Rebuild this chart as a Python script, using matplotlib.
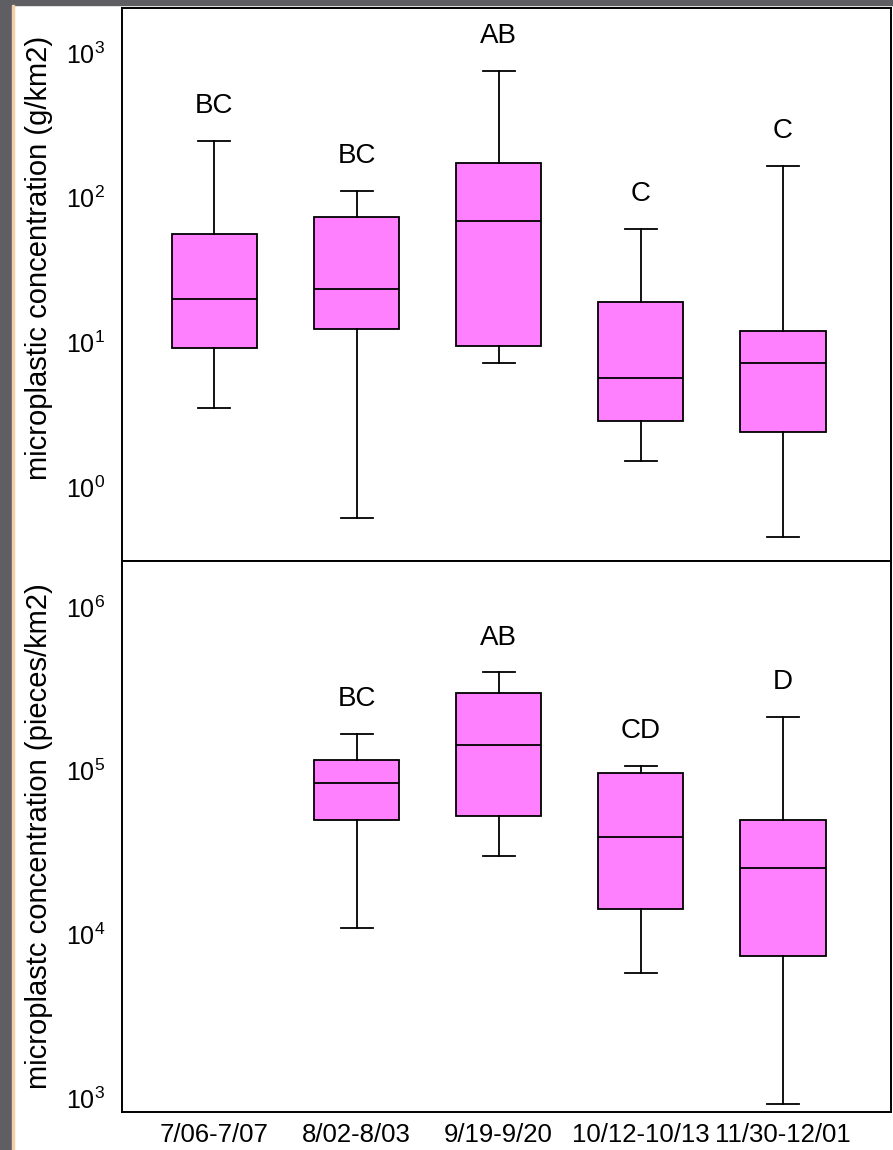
import matplotlib
matplotlib.use("Agg")
import matplotlib.pyplot as plt
from matplotlib.patches import Rectangle
from matplotlib.ticker import LogLocator, LogFormatterMathtext, NullLocator

plt.rcParams['font.family'] = ['Liberation Sans', 'DejaVu Sans']
plt.rcParams['mathtext.fontset'] = 'custom'
plt.rcParams['mathtext.rm'] = 'Liberation Sans'

dates = ["7/06-7/07", "8/02-8/03", "9/19-9/20", "10/12-10/13", "11/30-12/01"]

# g/km2, one box per sampling date
mass_low = [3.5, 0.61, 7.2, 1.52, 0.45]
mass_q1 = [9.1, 12.3, 9.4, 2.86, 2.39]
mass_med = [19.9, 23.5, 69, 5.65, 7.2]
mass_q3 = [55.8, 73.3, 173, 19.1, 11.9]
mass_high = [248, 111, 751, 61, 165]
mass_groups = ["BC", "BC", "AB", "C", "C"]

# pieces/km2, no data for the first date
count_dates = dates[1:]
count_low = [10900, 30300, 5780, 920]
count_q1 = [50000, 52800, 14200, 7380]
count_med = [84500, 143600, 39500, 25400]
count_q3 = [116000, 299000, 96400, 50000]
count_high = [167500, 399000, 107000, 213000]
count_groups = ["BC", "AB", "CD", "D"]

BOX_COLOR = "#ff80ff"
W, H = 893, 1150


def make_stats(low, q1, med, q3, high):
    return [dict(whislo=a, q1=b, med=c, q3=d, whishi=e, fliers=[])
            for a, b, c, d, e in zip(low, q1, med, q3, high)]


def draw_panel(ax, stats, positions, groups, ylim, label, label_y):
    line = dict(color="black", linewidth=1.3)
    ax.bxp(stats, positions=positions, widths=0.6, capwidths=0.225,
           patch_artist=True, showfliers=False,
           boxprops=dict(facecolor=BOX_COLOR, edgecolor="black", linewidth=1.3),
           medianprops=line, whiskerprops=line, capprops=line)
    for pos, st, g in zip(positions, stats, groups):
        ax.annotate(g, (pos, st["whishi"]), xytext=(0, 25), textcoords="offset points",
                    ha="center", va="center", fontsize=20)
    ax.set_yscale("log")
    ax.set_ylim(*ylim)
    ax.set_xlim(0.35, 5.76)
    ax.yaxis.set_major_locator(LogLocator(base=10, numticks=10))
    ax.yaxis.set_major_formatter(LogFormatterMathtext())
    ax.yaxis.set_minor_locator(NullLocator())
    ax.tick_params(axis="y", length=0, pad=12, labelsize=18)
    ax.tick_params(axis="x", length=0, pad=8, labelsize=18.5)
    ax.set_ylabel(label, fontsize=21)
    ax.yaxis.set_label_coords(-0.09, label_y)
    for sp in ax.spines.values():
        sp.set_linewidth(1.4)


fig = plt.figure(figsize=(W / 100, H / 100), dpi=100)
left = 122 / W
width = (891 - 122) / W
ax1 = fig.add_axes([left, 1 - 561 / H, width, 553 / H])
ax2 = fig.add_axes([left, 1 - 1112 / H, width, 551 / H])

draw_panel(ax1, make_stats(mass_low, mass_q1, mass_med, mass_q3, mass_high),
           [1, 2, 3, 4, 5], mass_groups, (10 ** -0.511, 10 ** 3.311),
           "microplastic concentration (g/km2)", 0.548)
ax1.set_xticks([])

draw_panel(ax2, make_stats(count_low, count_q1, count_med, count_q3, count_high),
           [2, 3, 4, 5], count_groups, (10 ** 2.915, 10 ** 6.281),
           "microplastc concentration (pieces/km2)", 0.5)
ax2.set_xticks([1, 2, 3, 4, 5])
ax2.set_xticklabels(dates)
ax2.set_xlim(0.35, 5.76)

# slide border
fig.patches.append(Rectangle((0, 0), 12 / W, 1, transform=fig.transFigure,
                             color="#5f5e63", zorder=0))
fig.patches.append(Rectangle((0, 1 - 5 / H), 1, 5 / H, transform=fig.transFigure,
                             color="#5f5e63", zorder=0))
fig.patches.append(Rectangle((12 / W, 0), 2 / W, 1 - 5 / H, transform=fig.transFigure,
                             color="#f3cfa8", zorder=0))

fig.savefig("out.png", dpi=100, facecolor="white")
